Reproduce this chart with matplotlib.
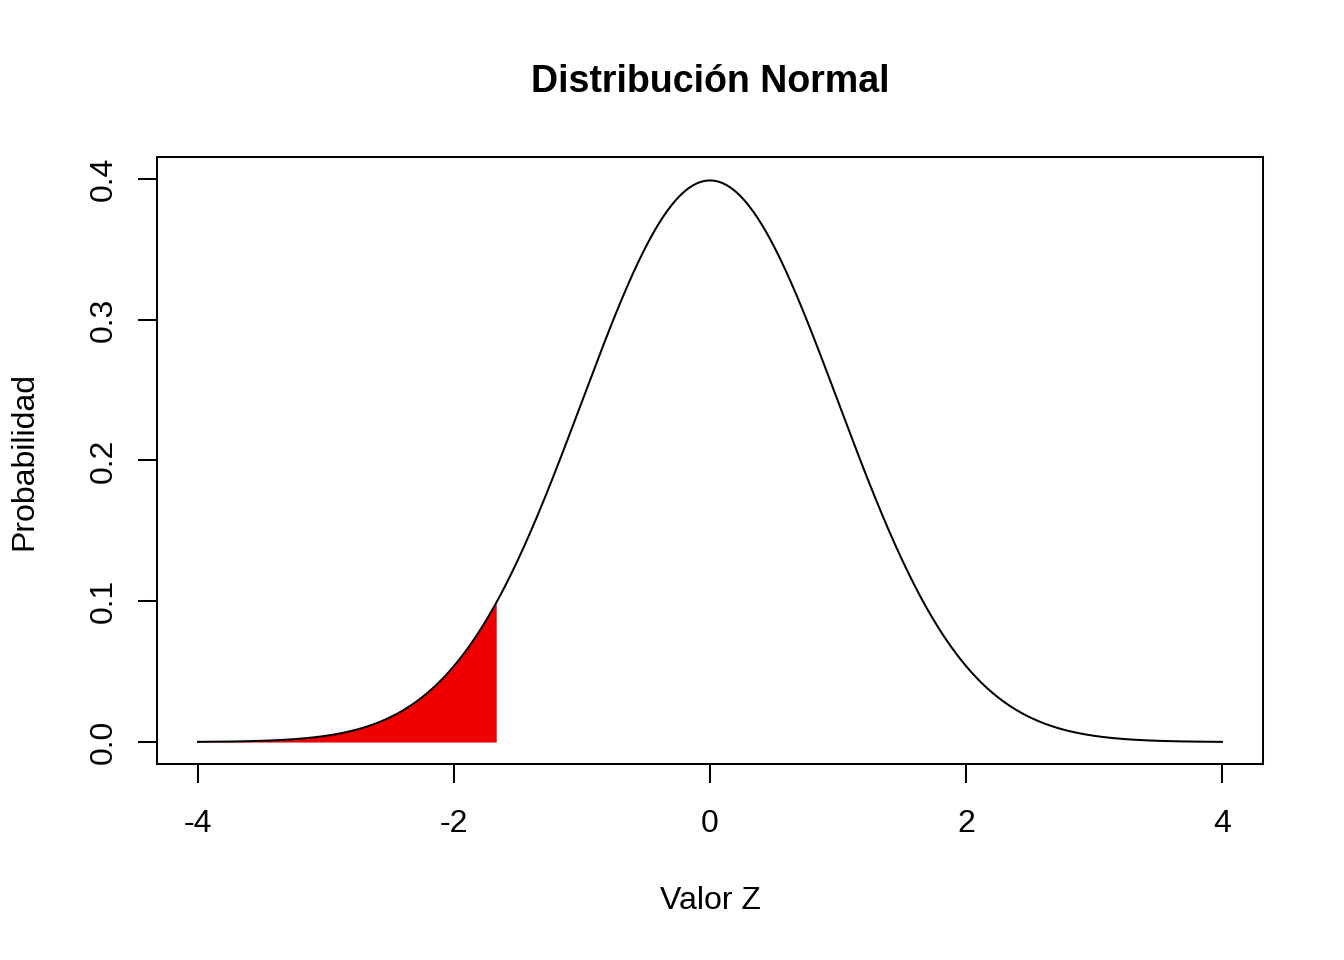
"""
Normal distribution curve with the shaded lower tail (R base-graphics look).
"""

import numpy as np
import matplotlib.pyplot as plt

plt.rcParams["font.family"] = ["Liberation Sans", "DejaVu Sans"]

# -- Data ----------------------------------------------------------------------
MEAN      = 0.0
SD        = 1.0
Z_RANGE   = (-4.0, 4.0)
Z_CUTOFF  = -1.67          # upper bound of the shaded tail
X_TICKS   = [-4, -2, 0, 2, 4]
Y_TICKS   = [0.0, 0.1, 0.2, 0.3, 0.4]
Y_TICKLABELS = ["0.0", "0.1", "0.2", "0.3", "0.4"]

TITLE  = "Distribución Normal"
XLABEL = "Valor Z"
YLABEL = "Probabilidad"

FILL_COLOR = "#EE0000"
LW = 1.45


def normal_pdf(x, mu, sd):
    return np.exp(-0.5 * ((x - mu) / sd) ** 2) / (sd * np.sqrt(2 * np.pi))


z = np.linspace(Z_RANGE[0], Z_RANGE[1], 801)
dens = normal_pdf(z, MEAN, SD)

z_tail = np.linspace(Z_RANGE[0], Z_CUTOFF, 400)
dens_tail = normal_pdf(z_tail, MEAN, SD)

# -- Plot ----------------------------------------------------------------------
fig = plt.figure(figsize=(13.44, 9.6), dpi=100)
ax = fig.add_axes([157 / 1344, 1 - 764 / 960, 1106 / 1344, 607 / 960])

ax.fill_between(z_tail, 0, dens_tail, color=FILL_COLOR, linewidth=0, zorder=2)
ax.plot(z, dens, color="black", linewidth=LW, zorder=3)

ax.set_xlim(-4.32, 4.32)
ax.set_ylim(-0.0156, 0.4156)

ax.set_xticks(X_TICKS)
ax.set_xticklabels([str(t) for t in X_TICKS])
ax.set_yticks(Y_TICKS)
ax.set_yticklabels(Y_TICKLABELS, rotation=90, va="center")

ax.tick_params(direction="out", length=13.7, width=LW, labelsize=23, pad=14)
ax.tick_params(axis="x", pad=19)
for s in ax.spines.values():
    s.set_linewidth(LW)

ax.text(0.5, 1.1235, TITLE, transform=ax.transAxes, ha="center", va="center",
        fontsize=27, fontweight="bold")
ax.text(0.5, -0.2258, XLABEL, transform=ax.transAxes, ha="center", va="center",
        fontsize=23)
ax.text(-0.1203, 0.5, YLABEL, transform=ax.transAxes, ha="center", va="center",
        fontsize=23, rotation=90)

fig.savefig("out.png", dpi=100)
